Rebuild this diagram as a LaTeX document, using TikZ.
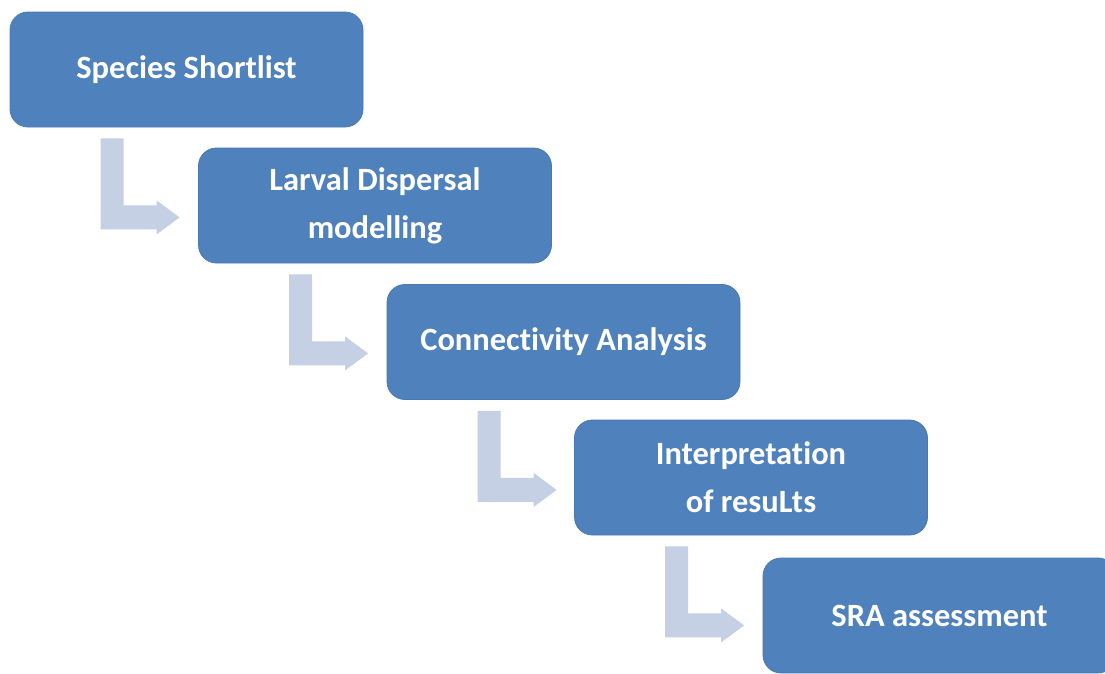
\documentclass[tikz,border=0pt]{standalone}
\usepackage{fontspec}
\setmainfont{Carlito}[Ligatures=NoCommon]
\definecolor{boxblue}{HTML}{4F81BD}
\definecolor{boxedge}{HTML}{4A79B2}
\definecolor{arrowblue}{HTML}{C5D0E4}
\begin{document}
\begin{tikzpicture}[x=1pt,y=-1pt,
  stepbox/.style={draw=boxedge, line width=0.8pt, fill=boxblue, rounded corners=18pt,
    minimum width=353pt, minimum height=115pt, inner sep=0pt, align=center,
    text=white, font=\fontsize{32.5}{48}\selectfont\bfseries},
  bentarrow/.style={fill=arrowblue}]
\useasboundingbox (0,0) rectangle (1105,673);
\node[stepbox] (b1) at (186.5,69.5) {Species Shortlist};
\node[stepbox] (b2) at (375,205.5) {Larval Dispersal\\modelling};
\node[stepbox] (b3) at (563.5,342) {Connectivity Analysis};
\node[stepbox] (b4) at (751,477.5) {Interpretation\\of resuLts};
\node[stepbox] (b5) at (939.5,615.5) {SRA assessment};
\foreach \a in {b1,b2,b3,b4}{
  \begin{scope}[shift={(\a.south west)}]
    \fill[bentarrow] (91,11) -- (114,11) -- (114,78) -- (147,78) -- (147,73)
      -- (170,90) -- (147,107) -- (147,102) -- (91,102) -- cycle;
  \end{scope}
}
\end{tikzpicture}
\end{document}
